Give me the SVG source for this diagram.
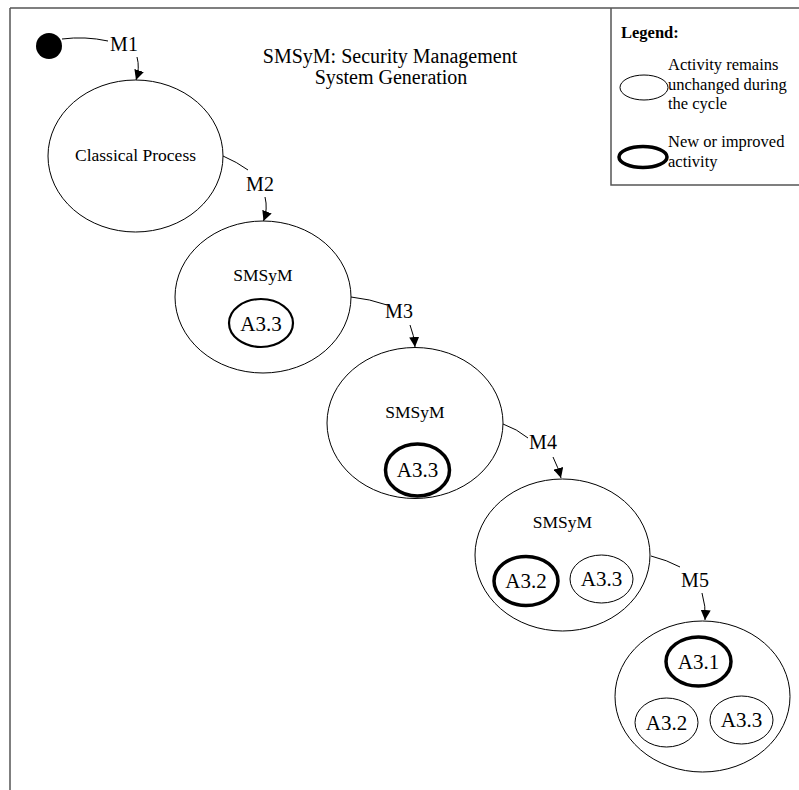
<svg xmlns="http://www.w3.org/2000/svg" width="799" height="790" viewBox="0 0 799 790" font-family="'Liberation Serif', 'Times New Roman', serif">
<style>
text{font-family:"Liberation Serif","Times New Roman",serif;fill:#000}
.node{fill:#fff;stroke:#000;stroke-width:1}
.thin{fill:#fff;stroke:#000;stroke-width:1}
.thick{fill:#fff;stroke:#000;stroke-width:3.5}
.med{fill:#fff;stroke:#000;stroke-width:2.2}
.conn{fill:none;stroke:#000;stroke-width:1}
.ttl{font-family:"Liberation Serif",serif;font-size:20px;text-anchor:middle}
.lbl{font-family:"Liberation Serif",serif;font-size:20px;text-anchor:middle}
.act{font-family:"Liberation Serif",serif;font-size:21px;text-anchor:middle}
.nm{font-family:"Liberation Serif",serif;font-size:17.5px;text-anchor:middle}
.leg{font-family:"Liberation Serif",serif;font-size:16.5px}
</style>
<defs>
<marker id="arr" viewBox="0 0 10 10" refX="10" refY="5" markerWidth="10" markerHeight="10" markerUnits="userSpaceOnUse" orient="auto">
<path d="M0,0 L10,5 L0,10 Z" fill="#000"/>
</marker>
</defs>
<rect width="799" height="790" fill="#fff"/>
<g id="frame">
<path d="M10,8 H799 M10,8 V790" fill="none" stroke="#555" stroke-width="1.5"/>
</g>
<g id="title">
<text x="390" y="63" class="ttl">SMSyM: Security Management</text>
<text x="391" y="84" class="ttl">System Generation</text>
</g>
<g id="legend">
<path d="M611,8 V185 H799" fill="none" stroke="#555" stroke-width="1.5"/>
<text x="621" y="38" class="leg" font-weight="bold">Legend:</text>
<ellipse cx="644" cy="87.5" rx="24" ry="12.5" class="thin"/>
<text x="668" y="70" class="leg">Activity remains</text>
<text x="668" y="90" class="leg">unchanged during</text>
<text x="668" y="109" class="leg">the cycle</text>
<ellipse cx="643" cy="157" rx="24" ry="10.5" class="thick"/>
<text x="668" y="147" class="leg">New or improved</text>
<text x="668" y="167" class="leg">activity</text>
</g>
<g id="start">
<circle cx="49" cy="46" r="13" fill="#000"/>
</g>
<g id="n1">
<ellipse cx="135.5" cy="156" rx="87.5" ry="76" class="node"/>
<text x="135.5" y="161" class="nm">Classical Process</text>
</g>
<g id="n2">
<ellipse cx="263" cy="297" rx="88" ry="76" class="node"/>
<text x="263" y="281" class="nm">SMSyM</text>
<ellipse cx="261" cy="323" rx="32" ry="24" class="med"/>
<text x="261" y="331" class="act">A3.3</text>
</g>
<g id="n3">
<ellipse cx="415" cy="423" rx="88" ry="75.5" class="node"/>
<text x="415" y="418" class="nm">SMSyM</text>
<ellipse cx="417.5" cy="470" rx="32" ry="26" class="thick"/>
<text x="417.5" y="477" class="act">A3.3</text>
</g>
<g id="n4">
<ellipse cx="562.5" cy="555" rx="87.5" ry="76" class="node"/>
<text x="562.5" y="528" class="nm">SMSyM</text>
<ellipse cx="526" cy="581" rx="32" ry="24.5" class="thick"/>
<text x="526" y="588" class="act">A3.2</text>
<ellipse cx="601.5" cy="579" rx="31.5" ry="24" class="thin"/>
<text x="601.5" y="586" class="act">A3.3</text>
</g>
<g id="n5">
<ellipse cx="702.5" cy="696.5" rx="87.5" ry="75.5" class="node"/>
<ellipse cx="698.5" cy="661.5" rx="32.5" ry="24.5" class="thick"/>
<text x="698.5" y="668.5" class="act">A3.1</text>
<ellipse cx="666.5" cy="722.5" rx="31.5" ry="24.5" class="thin"/>
<text x="666.5" y="729.5" class="act">A3.2</text>
<ellipse cx="741.5" cy="720" rx="31.5" ry="24" class="thin"/>
<text x="741.5" y="727" class="act">A3.3</text>
</g>
<g id="connectors">
<path d="M62,39 Q85,36 108,41" class="conn"/>
<path d="M137,57 Q140,68 136,80" class="conn" marker-end="url(#arr)"/>
<text x="124" y="51" class="lbl">M1</text>
<path d="M223,156 Q237,162 248,170" class="conn"/>
<path d="M265,197 Q268,209 263.5,221" class="conn" marker-end="url(#arr)"/>
<text x="260" y="191" class="lbl">M2</text>
<path d="M351,297 Q370,299 387,305" class="conn"/>
<path d="M410,325 Q414,335 415,347" class="conn" marker-end="url(#arr)"/>
<text x="399" y="318" class="lbl">M3</text>
<path d="M503,424 Q517,429 528,438" class="conn"/>
<path d="M553,457 Q558,467 561,478" class="conn" marker-end="url(#arr)"/>
<text x="543" y="449" class="lbl">M4</text>
<path d="M651,556 Q667,560 680,567" class="conn"/>
<path d="M702,593 Q706,606 705,620" class="conn" marker-end="url(#arr)"/>
<text x="695" y="587" class="lbl">M5</text>
</g>
</svg>
